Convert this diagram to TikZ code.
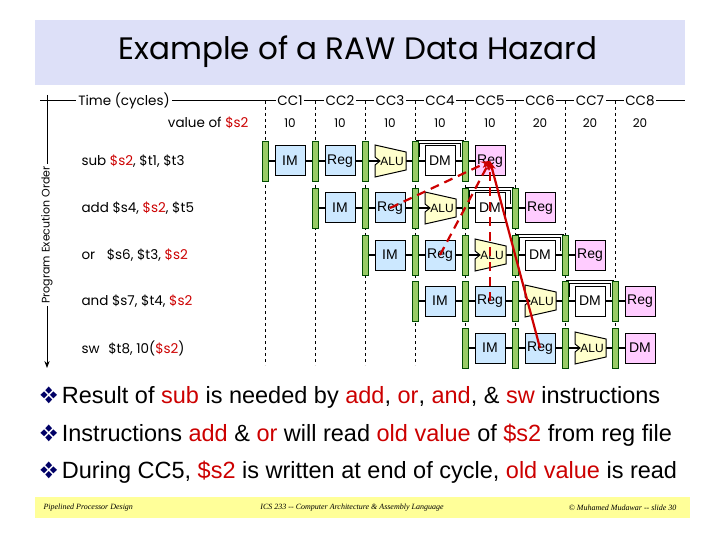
\documentclass[tikz,border=0pt]{standalone}
\usepackage{fontspec}
\setmainfont{Liberation Sans}
\newfontfamily\footfont{Liberation Serif}
\newfontfamily\comicfont{Poppins}
\usepackage{pifont}
\usetikzlibrary{arrows.meta,positioning}
\definecolor{titlebg}{RGB}{221,224,248}
\definecolor{footbg}{RGB}{255,255,153}
\definecolor{imblue}{RGB}{204,232,255}
\definecolor{wbpink}{RGB}{255,204,255}
\definecolor{alufill}{RGB}{255,255,204}
\definecolor{bargreen}{RGB}{153,204,102}
\definecolor{hred}{RGB}{204,0,0}
\newcommand{\hl}[1]{\textcolor{hred}{#1}}
\newcommand{\bul}{\textcolor{blue!40!black}{\ding{118}}\,}
\tikzset{
  stage/.style={draw, line width=1pt, minimum width=30pt, minimum height=30pt,
    inner sep=0pt, font=\fontsize{14}{15}\selectfont},
  mem/.style={stage, fill=imblue},
  wb/.style={stage, fill=wbpink},
  dmem/.style={stage, fill=white},
  pbar/.style={draw=black!70!green, fill=bargreen, line width=0.8pt,
    minimum width=6pt, minimum height=40pt, inner sep=0pt},
  lab/.style={font=\comicfont\fontsize{13.5}{16}\selectfont, anchor=west},
  hazard/.style={draw=hred, line width=2.2pt, -{Stealth[length=9pt]}},
}
\begin{document}
\begin{tikzpicture}[x=1pt,y=-1pt]
  \useasboundingbox (0,0) rectangle (720,540);
  % title
  \fill[titlebg] (35,20) rectangle (685,85);
  \node (title) at (358,52) {\comicfont\fontsize{31}{38}\selectfont Example of a RAW Data Hazard};
  % cycle boundaries
  \foreach \k in {0,...,7}
    \draw[dashed, line width=0.5pt] (265+50*\k,101) -- (265+50*\k,365);
  % axes
  \draw[line width=1pt] (40,101) -- (685,101);
  \draw[line width=1pt, -{Stealth[length=7pt]}] (47,95) -- (47,368);
  \node[fill=white, inner sep=2pt, font=\comicfont\fontsize{13.5}{16}\selectfont] (time) at (124,101) {Time (cycles)};
  \node[rotate=90, fill=white, inner sep=2pt, font=\comicfont\fontsize{11}{13}\selectfont] (order) at (47,235) {Program Execution Order};
  \foreach \c in {1,...,8}
    \node[fill=white, inner sep=1.5pt, font=\comicfont\fontsize{13.5}{16}\selectfont] (cc\c) at (240+50*\c,101) {CC\c};
  \node[anchor=east, font=\comicfont\fontsize{13.5}{16}\selectfont] (valof) at (252,123) {value of \hl{\$s2}};
  \foreach \c/\v in {1/10,2/10,3/10,4/10,5/10,6/20,7/20,8/20}
    \node[font=\comicfont\fontsize{12}{14}\selectfont] (v\c) at (240+50*\c,123) {\v};
  % instruction labels
  \node[lab] (i0) at (78,161) {sub \hl{\$s2}, \$t1, \$t3};
  \node[lab] (i1) at (78,208) {add \$s4, \hl{\$s2}, \$t5};
  \node[lab] (i2) at (78,255) {or\hspace{8pt} \$s6, \$t3, \hl{\$s2}};
  \node[lab] (i3) at (78,301) {and \$s7, \$t4, \hl{\$s2}};
  \node[lab] (i4) at (78,348) {sw\hspace{5pt} \$t8, 10(\hl{\$s2})};
  % pipeline rows
  \foreach \i/\y/\last in {0/161/4,1/208/4,2/255/4,3/301/4,4/348/3} {
    \pgfmathsetmacro{\xb}{290+50*\i}
    \draw[line width=1.5pt] (\xb-25,\y) -- (\xb+50*\last,\y);
    \ifnum\i<4
      \draw[line width=1pt, double, double distance=1.5pt]
        (\xb+128,\y-4) -- (\xb+128,\y-19) -- (\xb+172,\y-19) -- (\xb+172,\y-4);
    \fi
    \foreach \k in {0,...,\last}
      \node[pbar] (b\i\k) at (\xb-25+50*\k,\y) {};
    \node[mem] (r\i s0) at (\xb,\y) {IM};
    \node[mem] (r\i s1) at (\xb+50,\y) {Reg};
    \draw[line width=1pt, fill=alufill] (\xb+85,\y-16) -- (\xb+116,\y-9) -- (\xb+116,\y+9)
      -- (\xb+85,\y+16) -- (\xb+85,\y+4) -- (\xb+90,\y) -- (\xb+85,\y-4) -- cycle;
    \node[font=\fontsize{12}{13}\selectfont, inner sep=0pt] (r\i s2) at (\xb+102,\y) {ALU};
  }
  \foreach \i/\y in {0/161,1/208,2/255,3/301} {
    \node[dmem] (r\i s3) at (440+50*\i,\y) {DM};
    \node[wb] (r\i s4) at (490+50*\i,\y) {Reg};
  }
  \node[wb] (r4s3) at (640,348) {DM};
  % hazards
  \draw[hazard, dash pattern=on 9pt off 6pt] (r1s1.center) -- (r0s4.center);
  \draw[hazard, dash pattern=on 9pt off 6pt] (r2s1.center) -- (r0s4.center);
  \draw[hazard, dash pattern=on 9pt off 6pt] (r3s1.center) -- (r0s4.center);
  \draw[hazard] (r4s1.center) -- (r0s4.center);
  % bullets
  \begin{scope}[every node/.style={anchor=west, font=\fontsize{23.5}{26}\selectfont}]
    \node (p1) at (36,397) {\bul Result of \hl{sub} is needed by \hl{add}, \hl{or}, \hl{and}, \& \hl{sw} instructions};
    \node (p2) at (36,435) {\bul Instructions \hl{add} \& \hl{or} will read \hl{old value} of \hl{\$s2} from reg file};
    \node (p3) at (36,472) {\bul During CC5, \hl{\$s2} is written at end of cycle, \hl{old value} is read};
  \end{scope}
  % footer
  \fill[footbg] (35,497) rectangle (690,518);
  \begin{scope}[every node/.style={font=\footfont\itshape\fontsize{8}{9}\selectfont}]
    \node[anchor=west] (f1) at (40,508) {Pipelined Processor Design};
    \node (f2) at (352,508) {ICS 233 -- Computer Architecture \& Assembly Language};
    \node[anchor=east] (f3) at (680,508) {\copyright{} Muhamed Mudawar -- slide 30};
  \end{scope}
\end{tikzpicture}
\end{document}
